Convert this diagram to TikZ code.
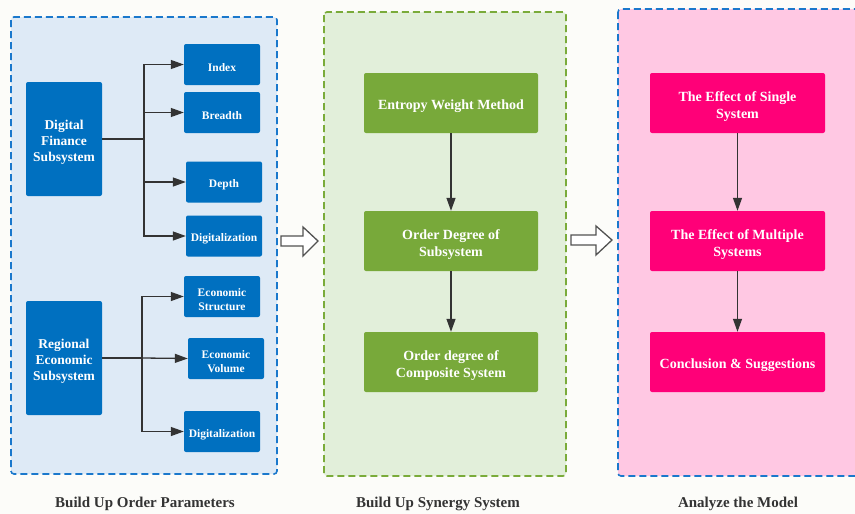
\documentclass[tikz,border=0pt]{standalone}
\usepackage{fontspec}
\setmainfont{Liberation Serif}
\usetikzlibrary{arrows.meta}
\definecolor{bgc}{HTML}{FCFCF9}
\definecolor{bluefill}{HTML}{DEEAF6}
\definecolor{blueline}{HTML}{1A78CC}
\definecolor{bluebox}{HTML}{0070C0}
\definecolor{greenfill}{HTML}{E2EFDA}
\definecolor{greenline}{HTML}{7AAB3A}
\definecolor{greenbox}{HTML}{78A93A}
\definecolor{pinkfill}{HTML}{FFC8E3}
\definecolor{pinkbox}{HTML}{FF0078}
\definecolor{arrc}{HTML}{333333}
\newcommand\lowA{\rule{0pt}{16.5pt}}
\newcommand\lowB{\rule{0pt}{16pt}}
\newcommand\lowC{\rule{0pt}{14pt}}
\tikzset{
  panel/.style={dash pattern=on 7pt off 4pt, line width=1.6pt, rounded corners=3pt},
  box/.style={rounded corners=2pt, text=white, font=\bfseries\fontsize{14}{17}\selectfont, align=center, inner sep=0pt},
  smallbox/.style={box, fill=bluebox, minimum width=76pt, minimum height=41pt, font=\bfseries\fontsize{11.5}{13.5}\selectfont},
  bigblue/.style={box, fill=bluebox, minimum width=76pt, minimum height=114pt, font=\bfseries\fontsize{13.5}{16}\selectfont},
  greenb/.style={box, fill=greenbox, minimum width=174pt, minimum height=60pt},
  pinkb/.style={box, fill=pinkbox, minimum width=175pt, minimum height=60pt},
  arr/.style={draw=arrc, line width=1.3pt, -{Triangle[length=13pt,width=9pt]}},
  hollow/.style={draw=arrc!85, line width=1.3pt, fill=white},
  caption/.style={text=arrc, font=\bfseries\fontsize{15}{17}\selectfont}
}
\begin{document}
\begin{tikzpicture}[x=1pt,y=-1pt]
\useasboundingbox (0,0) rectangle (855,514);
\fill[bgc] (0,0) rectangle (855,514);
% panels
\draw[panel, draw=blueline, fill=bluefill] (11,17) rectangle (277,474);
\draw[panel, draw=greenline, fill=greenfill] (324,12) rectangle (566,476);
\draw[panel, draw=blueline, fill=pinkfill] (618,9) rectangle (870,476);
% left panel nodes
\node[bigblue] (df) at (64,139) {\lowB Digital\\Finance\\Subsystem};
\node[smallbox] (index) at (222,64.5) {\lowC Index};
\node[smallbox] (breadth) at (222,112.5) {\lowC Breadth};
\node[smallbox] (depth) at (224,182) {\lowC Depth};
\node[smallbox] (dig1) at (224,236) {\lowC Digitalization};
\node[bigblue] (re) at (64,358) {\lowB Regional\\Economic\\Subsystem};
\node[smallbox] (es) at (222,296.5) {\lowC Economic\\Structure};
\node[smallbox] (ev) at (226,358.5) {\lowC Economic\\Volume};
\node[smallbox] (dig2) at (222,431.5) {\lowC Digitalization};
\coordinate (t1) at (144,139);
\coordinate (t2) at (142,358);
\draw[draw=arrc, line width=1.3pt] (df.east) -- (t1);
\draw[arr] (t1) |- (index.west);
\draw[arr] (t1) |- (breadth.west);
\draw[arr] (t1) |- (depth.west);
\draw[arr] (t1) |- (dig1.west);
\draw[draw=arrc, line width=1.3pt] (re.east) -- (t2);
\draw[arr] (t2) |- (es.west);
\draw[arr] (t2) -- (ev.west);
\draw[arr] (t2) |- (dig2.west);
% middle panel
\node[greenb] (ewm) at (451,103) {\lowA Entropy Weight Method};
\node[greenb] (ods) at (451,241) {\lowA Order Degree of\\Subsystem};
\node[greenb] (odc) at (451,362) {\lowA Order degree of\\Composite System};
\draw[arr] (ewm) -- (ods);
\draw[arr] (ods) -- (odc);
% right panel
\node[pinkb] (es1) at (737.5,103) {\lowA The Effect of Single\\System};
\node[pinkb] (em) at (737.5,241) {\lowA The Effect of Multiple\\Systems};
\node[pinkb] (cs) at (737.5,362) {\lowA Conclusion \& Suggestions};
\draw[arr] (es1) -- (em);
\draw[arr] (em) -- (cs);
% hollow arrows
\draw[hollow] (281,236) -- (303,236) -- (303,227) -- (318,241) -- (303,256) -- (303,246) -- (281,246) -- cycle;
\draw[hollow] (571,235) -- (596,235) -- (596,226) -- (612,240) -- (596,255) -- (596,245) -- (571,245) -- cycle;
% captions
\node[caption] (c1) at (145,504) {Build Up Order Parameters};
\node[caption] (c2) at (438,504) {Build Up Synergy System};
\node[caption] (c3) at (738,504) {Analyze the Model};
\end{tikzpicture}
\end{document}
